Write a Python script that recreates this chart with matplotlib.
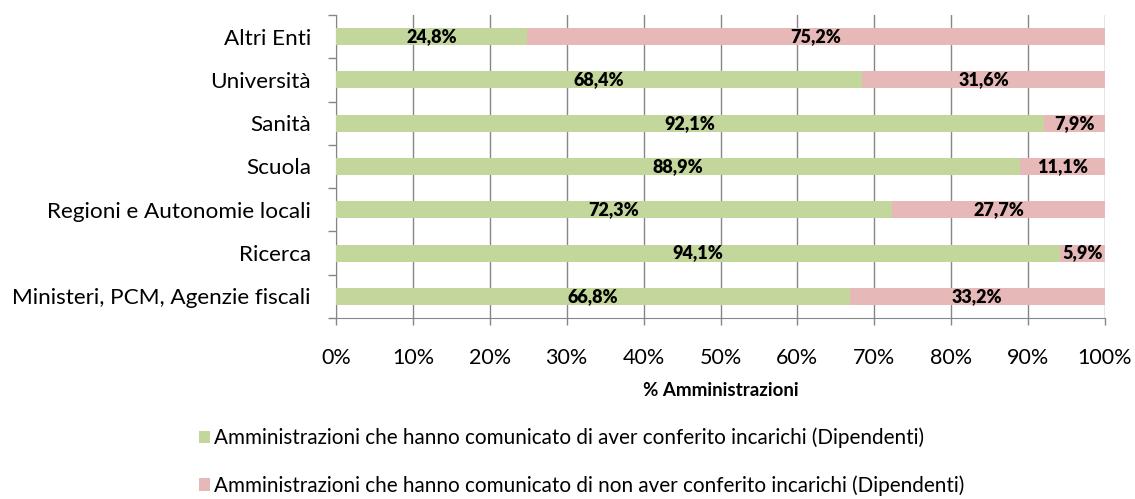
import numpy as np
import matplotlib.pyplot as plt
from matplotlib.ticker import FixedLocator

# Data (bottom to top as drawn)
categorie = ['Ministeri, PCM, Agenzie fiscali', 'Ricerca', 'Regioni e Autonomie locali',
             'Scuola', 'Sanità', 'Università', 'Altri Enti']
conferito = [66.8, 94.1, 72.3, 88.9, 92.1, 68.4, 24.8]
non_conferito = [33.2, 5.9, 27.7, 11.1, 7.9, 31.6, 75.2]
serie = ['Amministrazioni che hanno comunicato di aver conferito incarichi (Dipendenti)',
         'Amministrazioni che hanno comunicato di non aver conferito incarichi (Dipendenti)']
colori = ['#C3D69B', '#E6B9B8']

plt.rcParams['font.family'] = ['Lato', 'DejaVu Sans']

fig = plt.figure(figsize=(11.35, 4.99), dpi=100)
ax = fig.add_axes([336 / 1135, 1 - 318 / 499, (1105 - 336) / 1135, (318 - 15) / 499])

y = np.arange(len(categorie))
h = 0.39
b1 = ax.barh(y, conferito, height=h, color=colori[0], label=serie[0], zorder=3)
b2 = ax.barh(y, non_conferito, left=conferito, height=h, color=colori[1], label=serie[1], zorder=3)

def fmt(v):
    return f'{v:.1f}%'.replace('.', ',')

for i in range(len(categorie)):
    ax.text(conferito[i] / 2, y[i], fmt(conferito[i]), ha='center', va='center',
            fontsize=13, fontweight='heavy', zorder=4)
    ax.text(conferito[i] + non_conferito[i] / 2, y[i], fmt(non_conferito[i]), ha='center',
            va='center', fontsize=13, fontweight='heavy', zorder=4)

ax.set_xlim(0, 100)
ax.set_ylim(-0.5, len(categorie) - 0.5)
ax.set_xticks(np.arange(0, 101, 10))
ax.set_xticklabels([f'{v}%' for v in range(0, 101, 10)], fontsize=15.5)
ax.set_yticks(y)
ax.set_yticklabels(categorie, fontsize=16.2)
ax.tick_params(axis='y', length=0, pad=18)
ax.yaxis.set_minor_locator(FixedLocator(np.arange(-0.5, len(categorie), 1)))
ax.tick_params(axis='y', which='minor', length=6, color='#868686', width=1)
ax.tick_params(axis='x', length=5, color='#868686', width=1, pad=16.5)
ax.grid(axis='x', color='#868686', linewidth=1, zorder=0)
for s in ['top', 'right']:
    ax.spines[s].set_visible(False)
for s in ['left', 'bottom']:
    ax.spines[s].set_color('#868686')
ax.set_xlabel('% Amministrazioni', fontsize=13.5, fontweight='bold', labelpad=10)

fig.legend(handles=[b1, b2], loc='upper left', bbox_to_anchor=(180 / 1135, 1 - 409 / 499),
           ncol=1, frameon=False, fontsize=14.9, handlelength=0.55, handleheight=0.55,
           handletextpad=0.2, labelspacing=1.3)

fig.savefig('out.png', dpi=100)
